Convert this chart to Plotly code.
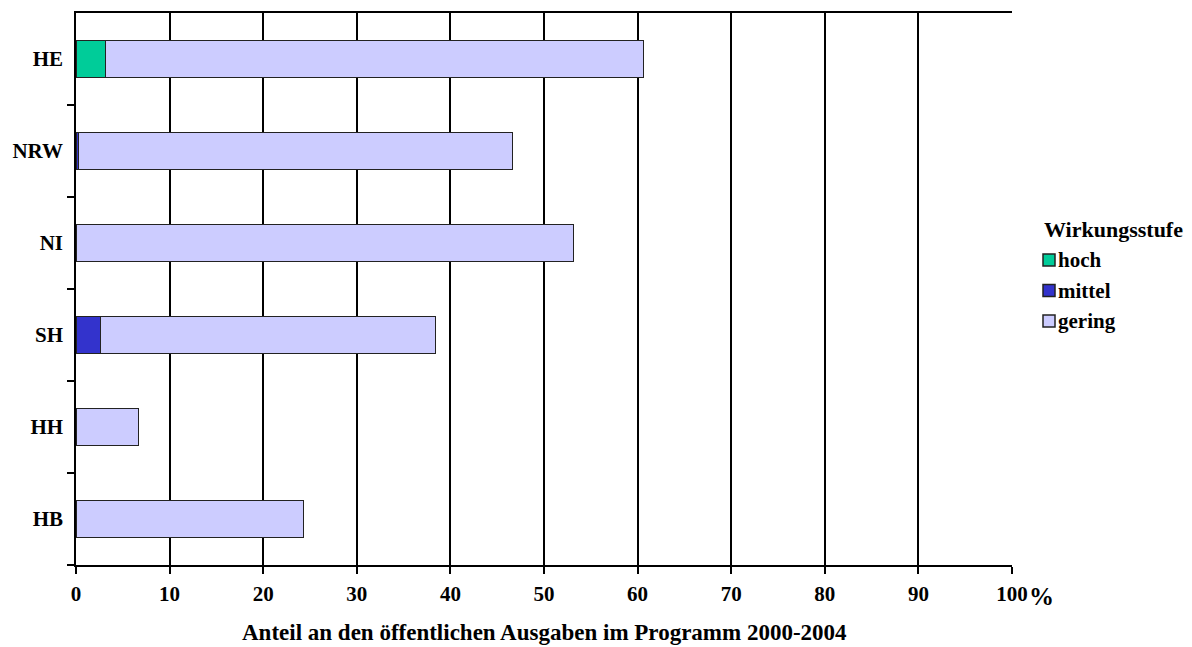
import plotly.graph_objects as go

# Bundesländer (top to bottom) and share of public spending per impact level (%)
laender = ["HE", "NRW", "NI", "SH", "HH", "HB"]
hoch = [3.1, 0.0, 0.0, 0.0, 0.0, 0.0]
mittel = [0.0, 0.3, 0.0, 2.6, 0.0, 0.0]
gering = [57.5, 46.3, 53.2, 35.8, 6.7, 24.3]
x_ticks = [0, 10, 20, 30, 40, 50, 60, 70, 80, 90, 100]

series = [("hoch", hoch, "#00cc99"),
          ("mittel", mittel, "#3333cc"),
          ("gering", gering, "#ccccff")]

serif = "Liberation Serif, Times New Roman, serif"
edge = dict(color="#222222", width=1)

W, H = 1192, 647
M = dict(l=76, r=180, t=13, b=82)
PW = W - M["l"] - M["r"]
PH = H - M["t"] - M["b"]


def px_x(px):
    return (px - M["l"]) / PW


def px_y(py):
    return (H - M["b"] - py) / PH


fig = go.Figure()
for name, vals, col in series:
    fig.add_trace(go.Bar(
        y=laender, x=vals, name=name, orientation="h",
        marker=dict(color=col, line=edge), showlegend=False,
    ))

fig.update_layout(
    barmode="stack",
    bargap=0.6,
    width=W, height=H,
    margin=M,
    plot_bgcolor="white", paper_bgcolor="white",
    font=dict(family=serif, size=21, color="black"),
)

fig.update_xaxes(
    range=[0, 100], tickvals=x_ticks,
    ticktext=[f"<b>{v}</b>" for v in x_ticks],
    showgrid=True, gridcolor="black", gridwidth=1.5,
    showline=True, linecolor="black", linewidth=1.5, mirror=True,
    ticks="outside", ticklen=7, tickcolor="black", tickwidth=1.5,
    ticklabelstandoff=2, automargin=False,
    zeroline=False,
)
fig.update_yaxes(
    categoryorder="array", categoryarray=laender[::-1],
    tickvals=laender, ticktext=[f"<b>{c}</b>" for c in laender],
    showgrid=False, automargin=False,
    showline=True, linecolor="black", linewidth=1.5,
    ticks="outside", ticklen=7, tickcolor="black", tickwidth=1.5,
    tickson="boundaries", ticklabelstandoff=7,
)

# x-axis title below the tick labels
fig.add_annotation(
    text="<b>Anteil an den öffentlichen Ausgaben im Programm 2000-2004</b>",
    xref="paper", yref="paper", x=0.5, y=px_y(632),
    xanchor="center", yanchor="middle", showarrow=False,
    font=dict(size=23, family=serif),
)

fig.add_annotation(
    text="<b>%</b>", xref="paper", yref="paper", x=1.0, y=0, xshift=15,
    yshift=-16, xanchor="left", yanchor="top", showarrow=False,
    font=dict(size=25, family=serif),
)

# Legend: title plus one swatch and label per impact level
fig.add_annotation(
    text="<b>Wirkungsstufe</b>", xref="paper", yref="paper",
    x=px_x(1042), y=px_y(230), xanchor="left", yanchor="middle",
    showarrow=False, font=dict(size=22, family=serif),
)
for i, (name, _, col) in enumerate(series):
    cy = 260 + 30.5 * i
    fig.add_shape(
        type="rect", xref="paper", yref="paper",
        x0=px_x(1043), x1=px_x(1055), y0=px_y(cy + 6), y1=px_y(cy - 6),
        fillcolor=col, line=dict(color="#222222", width=1.5),
    )
    fig.add_annotation(
        text=f"<b>{name}</b>", xref="paper", yref="paper",
        x=px_x(1056), y=px_y(cy), xanchor="left", yanchor="middle",
        showarrow=False, font=dict(size=21, family=serif),
    )

fig.write_html("out.html")
